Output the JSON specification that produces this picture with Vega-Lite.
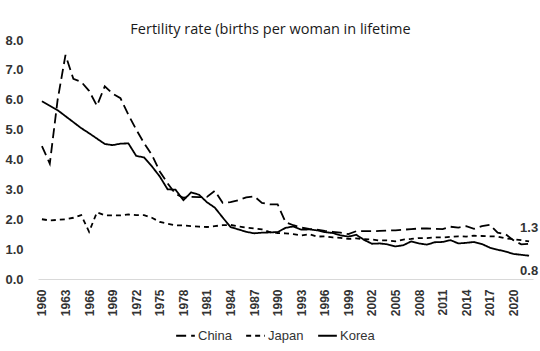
{
  "$schema": "https://vega.github.io/schema/vega-lite/v6.json",
  "width": 495,
  "height": 239,
  "autosize": {"type": "none"},
  "padding": {"left": 38, "top": 40, "right": 7, "bottom": 72},
  "background": "white",
  "config": {"view": {"stroke": null}, "font": "Liberation Sans"},
  "title": {"text": "Fertility rate (births per woman in lifetime", "font": "Open Sans", "fontSize": 14.5, "fontWeight": "normal", "color": "#1a1a1a", "dx": -15, "offset": -3},
  "data": {"values": [
    {"year":1960,"c":"China","v":4.45},{"year":1961,"c":"China","v":3.86},{"year":1962,"c":"China","v":6.0},{"year":1963,"c":"China","v":7.5},{"year":1964,"c":"China","v":6.7},{"year":1965,"c":"China","v":6.6},{"year":1966,"c":"China","v":6.3},{"year":1967,"c":"China","v":5.8},{"year":1968,"c":"China","v":6.45},{"year":1969,"c":"China","v":6.2},{"year":1970,"c":"China","v":6.05},{"year":1971,"c":"China","v":5.5},{"year":1972,"c":"China","v":5.0},{"year":1973,"c":"China","v":4.55},{"year":1974,"c":"China","v":4.15},{"year":1975,"c":"China","v":3.6},{"year":1976,"c":"China","v":3.2},{"year":1977,"c":"China","v":2.85},{"year":1978,"c":"China","v":2.72},{"year":1979,"c":"China","v":2.75},{"year":1980,"c":"China","v":2.74},{"year":1981,"c":"China","v":2.75},{"year":1982,"c":"China","v":2.95},{"year":1983,"c":"China","v":2.55},{"year":1984,"c":"China","v":2.57},{"year":1985,"c":"China","v":2.64},{"year":1986,"c":"China","v":2.73},{"year":1987,"c":"China","v":2.77},{"year":1988,"c":"China","v":2.55},{"year":1989,"c":"China","v":2.5},{"year":1990,"c":"China","v":2.5},{"year":1991,"c":"China","v":1.9},{"year":1992,"c":"China","v":1.8},{"year":1993,"c":"China","v":1.72},{"year":1994,"c":"China","v":1.68},{"year":1995,"c":"China","v":1.65},{"year":1996,"c":"China","v":1.61},{"year":1997,"c":"China","v":1.58},{"year":1998,"c":"China","v":1.55},{"year":1999,"c":"China","v":1.5},{"year":2000,"c":"China","v":1.6},{"year":2001,"c":"China","v":1.6},{"year":2002,"c":"China","v":1.6},{"year":2003,"c":"China","v":1.61},{"year":2004,"c":"China","v":1.62},{"year":2005,"c":"China","v":1.63},{"year":2006,"c":"China","v":1.65},{"year":2007,"c":"China","v":1.67},{"year":2008,"c":"China","v":1.69},{"year":2009,"c":"China","v":1.69},{"year":2010,"c":"China","v":1.68},{"year":2011,"c":"China","v":1.67},{"year":2012,"c":"China","v":1.75},{"year":2013,"c":"China","v":1.72},{"year":2014,"c":"China","v":1.77},{"year":2015,"c":"China","v":1.68},{"year":2016,"c":"China","v":1.77},{"year":2017,"c":"China","v":1.81},{"year":2018,"c":"China","v":1.55},{"year":2019,"c":"China","v":1.5},{"year":2020,"c":"China","v":1.3},{"year":2021,"c":"China","v":1.16},{"year":2022,"c":"China","v":1.18},
    {"year":1960,"c":"Japan","v":2.0},{"year":1961,"c":"Japan","v":1.96},{"year":1962,"c":"Japan","v":1.98},{"year":1963,"c":"Japan","v":2.0},{"year":1964,"c":"Japan","v":2.05},{"year":1965,"c":"Japan","v":2.14},{"year":1966,"c":"Japan","v":1.58},{"year":1967,"c":"Japan","v":2.23},{"year":1968,"c":"Japan","v":2.13},{"year":1969,"c":"Japan","v":2.13},{"year":1970,"c":"Japan","v":2.13},{"year":1971,"c":"Japan","v":2.16},{"year":1972,"c":"Japan","v":2.14},{"year":1973,"c":"Japan","v":2.14},{"year":1974,"c":"Japan","v":2.05},{"year":1975,"c":"Japan","v":1.91},{"year":1976,"c":"Japan","v":1.85},{"year":1977,"c":"Japan","v":1.8},{"year":1978,"c":"Japan","v":1.79},{"year":1979,"c":"Japan","v":1.77},{"year":1980,"c":"Japan","v":1.75},{"year":1981,"c":"Japan","v":1.74},{"year":1982,"c":"Japan","v":1.77},{"year":1983,"c":"Japan","v":1.8},{"year":1984,"c":"Japan","v":1.81},{"year":1985,"c":"Japan","v":1.76},{"year":1986,"c":"Japan","v":1.72},{"year":1987,"c":"Japan","v":1.69},{"year":1988,"c":"Japan","v":1.66},{"year":1989,"c":"Japan","v":1.57},{"year":1990,"c":"Japan","v":1.54},{"year":1991,"c":"Japan","v":1.53},{"year":1992,"c":"Japan","v":1.5},{"year":1993,"c":"Japan","v":1.46},{"year":1994,"c":"Japan","v":1.5},{"year":1995,"c":"Japan","v":1.42},{"year":1996,"c":"Japan","v":1.43},{"year":1997,"c":"Japan","v":1.39},{"year":1998,"c":"Japan","v":1.38},{"year":1999,"c":"Japan","v":1.34},{"year":2000,"c":"Japan","v":1.36},{"year":2001,"c":"Japan","v":1.33},{"year":2002,"c":"Japan","v":1.32},{"year":2003,"c":"Japan","v":1.29},{"year":2004,"c":"Japan","v":1.29},{"year":2005,"c":"Japan","v":1.26},{"year":2006,"c":"Japan","v":1.32},{"year":2007,"c":"Japan","v":1.34},{"year":2008,"c":"Japan","v":1.37},{"year":2009,"c":"Japan","v":1.37},{"year":2010,"c":"Japan","v":1.39},{"year":2011,"c":"Japan","v":1.39},{"year":2012,"c":"Japan","v":1.41},{"year":2013,"c":"Japan","v":1.43},{"year":2014,"c":"Japan","v":1.42},{"year":2015,"c":"Japan","v":1.45},{"year":2016,"c":"Japan","v":1.44},{"year":2017,"c":"Japan","v":1.43},{"year":2018,"c":"Japan","v":1.42},{"year":2019,"c":"Japan","v":1.36},{"year":2020,"c":"Japan","v":1.33},{"year":2021,"c":"Japan","v":1.3},{"year":2022,"c":"Japan","v":1.26},
    {"year":1960,"c":"Korea","v":5.95},{"year":1961,"c":"Korea","v":5.8},{"year":1962,"c":"Korea","v":5.65},{"year":1963,"c":"Korea","v":5.45},{"year":1964,"c":"Korea","v":5.25},{"year":1965,"c":"Korea","v":5.05},{"year":1966,"c":"Korea","v":4.88},{"year":1967,"c":"Korea","v":4.7},{"year":1968,"c":"Korea","v":4.52},{"year":1969,"c":"Korea","v":4.48},{"year":1970,"c":"Korea","v":4.53},{"year":1971,"c":"Korea","v":4.54},{"year":1972,"c":"Korea","v":4.12},{"year":1973,"c":"Korea","v":4.07},{"year":1974,"c":"Korea","v":3.77},{"year":1975,"c":"Korea","v":3.43},{"year":1976,"c":"Korea","v":3.0},{"year":1977,"c":"Korea","v":2.99},{"year":1978,"c":"Korea","v":2.64},{"year":1979,"c":"Korea","v":2.9},{"year":1980,"c":"Korea","v":2.82},{"year":1981,"c":"Korea","v":2.57},{"year":1982,"c":"Korea","v":2.39},{"year":1983,"c":"Korea","v":2.06},{"year":1984,"c":"Korea","v":1.74},{"year":1985,"c":"Korea","v":1.66},{"year":1986,"c":"Korea","v":1.58},{"year":1987,"c":"Korea","v":1.53},{"year":1988,"c":"Korea","v":1.55},{"year":1989,"c":"Korea","v":1.56},{"year":1990,"c":"Korea","v":1.57},{"year":1991,"c":"Korea","v":1.71},{"year":1992,"c":"Korea","v":1.76},{"year":1993,"c":"Korea","v":1.65},{"year":1994,"c":"Korea","v":1.66},{"year":1995,"c":"Korea","v":1.63},{"year":1996,"c":"Korea","v":1.57},{"year":1997,"c":"Korea","v":1.54},{"year":1998,"c":"Korea","v":1.46},{"year":1999,"c":"Korea","v":1.42},{"year":2000,"c":"Korea","v":1.48},{"year":2001,"c":"Korea","v":1.31},{"year":2002,"c":"Korea","v":1.18},{"year":2003,"c":"Korea","v":1.19},{"year":2004,"c":"Korea","v":1.16},{"year":2005,"c":"Korea","v":1.09},{"year":2006,"c":"Korea","v":1.13},{"year":2007,"c":"Korea","v":1.26},{"year":2008,"c":"Korea","v":1.19},{"year":2009,"c":"Korea","v":1.15},{"year":2010,"c":"Korea","v":1.23},{"year":2011,"c":"Korea","v":1.24},{"year":2012,"c":"Korea","v":1.3},{"year":2013,"c":"Korea","v":1.19},{"year":2014,"c":"Korea","v":1.21},{"year":2015,"c":"Korea","v":1.24},{"year":2016,"c":"Korea","v":1.17},{"year":2017,"c":"Korea","v":1.05},{"year":2018,"c":"Korea","v":0.98},{"year":2019,"c":"Korea","v":0.92},{"year":2020,"c":"Korea","v":0.84},{"year":2021,"c":"Korea","v":0.81},{"year":2022,"c":"Korea","v":0.78}
  ]},
  "encoding": {
    "x": {"field": "year", "type": "quantitative", "scale": {"domain": [1959.5, 2022.5], "nice": false, "zero": false},
      "axis": {"title": null, "values": [1960,1963,1966,1969,1972,1975,1978,1981,1984,1987,1990,1993,1996,1999,2002,2005,2008,2011,2014,2017,2020], "format": "d", "labelAngle": 270, "labelPadding": 10, "ticks": false, "grid": false, "domainColor": "#d9d9d9", "labelFont": "Liberation Sans", "labelFontSize": 12, "labelColor": "#333333", "labelFontWeight": "bold"}},
    "y": {"field": "v", "type": "quantitative", "scale": {"domain": [0, 8], "nice": false},
      "axis": {"title": null, "values": [0,1,2,3,4,5,6,7,8], "format": ".1f", "ticks": false, "grid": false, "domain": false, "labelPadding": 15, "labelFont": "Liberation Sans", "labelFontSize": 13, "labelColor": "#333333", "labelFontWeight": "bold"}}
  },
  "layer": [
    {"mark": {"type": "line", "color": "black", "strokeWidth": 1.8},
     "encoding": {"strokeDash": {"field": "c", "type": "nominal", "scale": {"domain": ["China", "Japan", "Korea"], "range": [[10, 5], [5, 4], [1, 0]]},
       "legend": {"title": null, "orient": "none", "legendX": 137, "legendY": 285, "direction": "horizontal", "symbolType": "stroke", "symbolStrokeColor": "black", "symbolStrokeWidth": 1.8, "symbolSize": 350, "labelFont": "Liberation Sans", "labelFontSize": 13, "labelColor": "#333333", "columnPadding": 10, "symbolOffset": 0, "labelOffset": 2}}}},
    {"transform": [{"filter": "datum.year == 2022 && datum.c == 'Japan'"}],
     "mark": {"type": "text", "dy": -13, "font": "Liberation Sans", "fontSize": 13, "fontWeight": "bold", "color": "#333333"},
     "encoding": {"text": {"field": "v", "type": "quantitative", "format": ".1f"}}},
    {"transform": [{"filter": "datum.year == 2022 && datum.c == 'Korea'"}],
     "mark": {"type": "text", "dy": 15, "font": "Liberation Sans", "fontSize": 13, "fontWeight": "bold", "color": "#333333"},
     "encoding": {"text": {"field": "v", "type": "quantitative", "format": ".1f"}}}
  ]
}
